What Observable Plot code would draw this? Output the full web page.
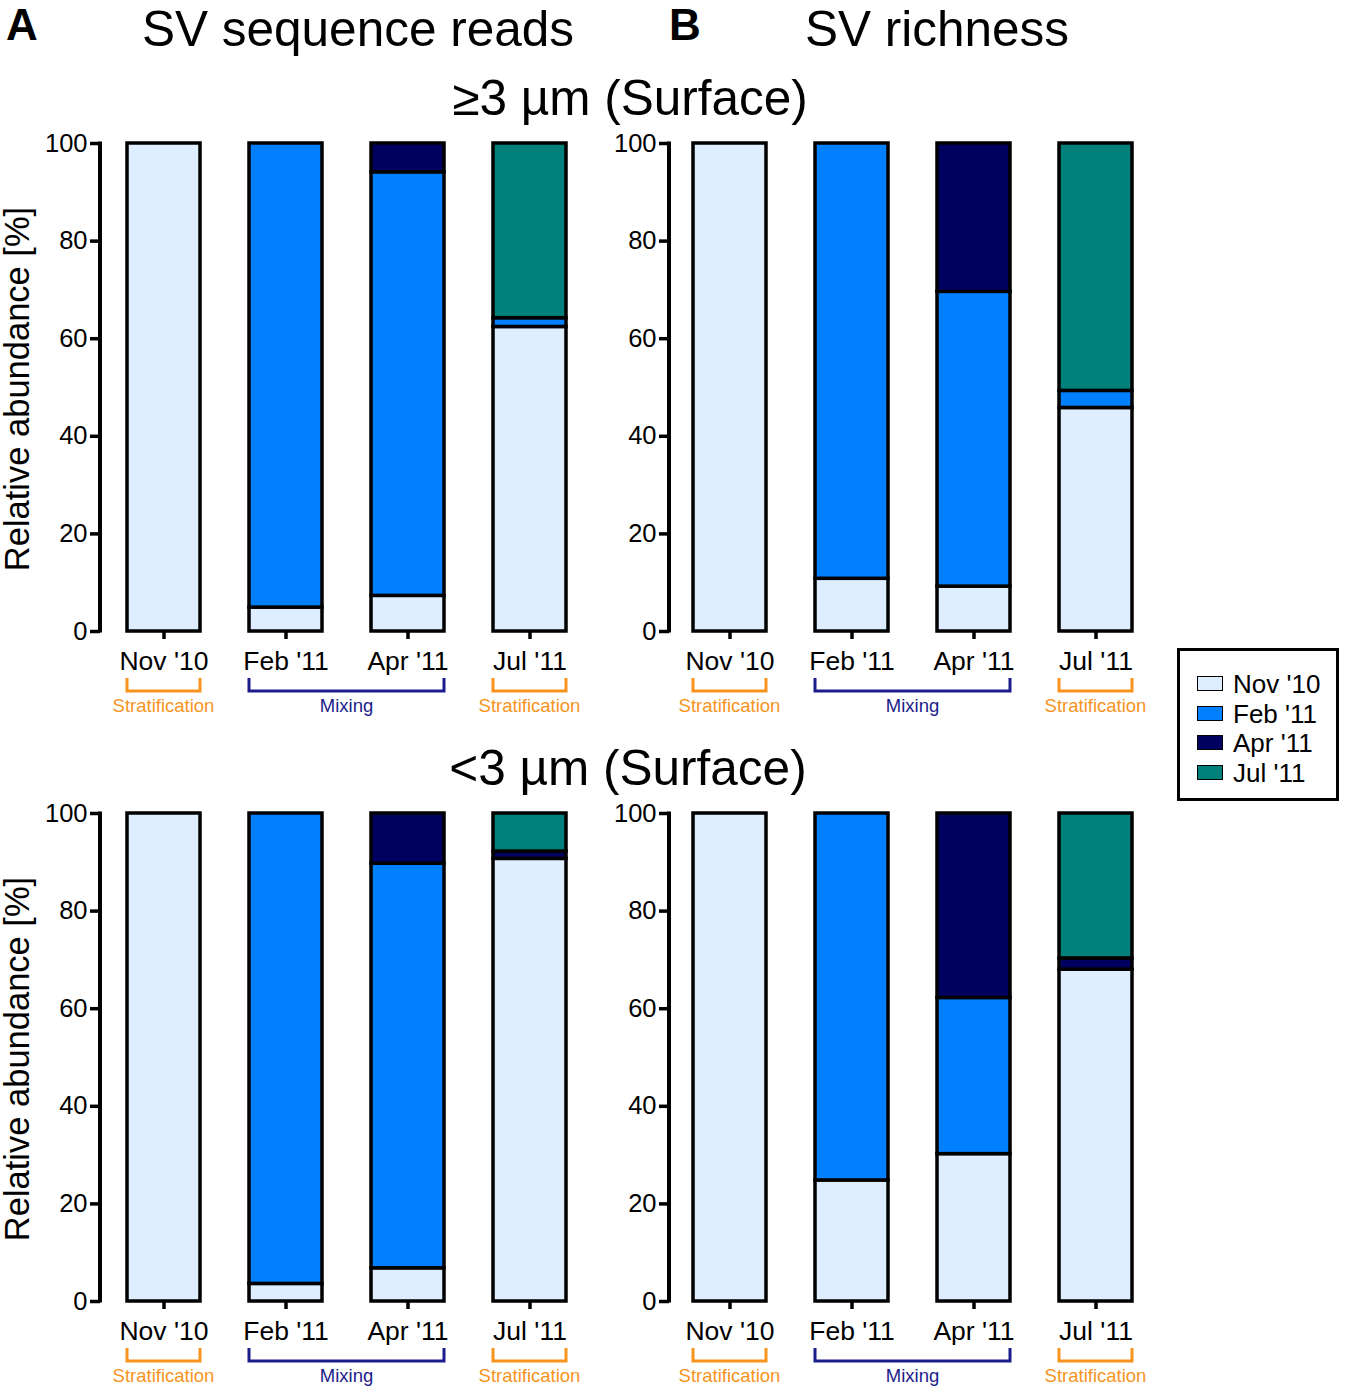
<!DOCTYPE html>
<html>
<head>
<meta charset="utf-8">
<script src="https://cdn.jsdelivr.net/npm/d3@7"></script>
<script src="https://cdn.jsdelivr.net/npm/@observablehq/plot@0.6"></script>
<style>
  html, body { margin: 0; padding: 0; background: #fff; }
  #page { position: relative; width: 1350px; height: 1395px; font-family: "Liberation Sans", Arial, sans-serif; color: #000; }
  .txt { position: absolute; line-height: 1; white-space: nowrap; }
  .panel { position: absolute; }
  #legend { position: absolute; left: 1177px; top: 648px; width: 156px; height: 147px; border: 3.5px solid #000; background: #fff; }
  .li { position: absolute; left: 17px; font-size: 26px; line-height: 1; white-space: nowrap; }
  .sw { display: inline-block; width: 24px; height: 13px; border: 1.5px solid #000; margin-right: 10px; vertical-align: 2px; }
</style>
</head>
<body>
<div id="page"></div>
<script>
// ---- data ----
const months = ["Nov '10", "Feb '11", "Apr '11", "Jul '11"];
const seriesNames = ["Nov '10", "Feb '11", "Apr '11", "Jul '11"];
const seriesColors = ["#deeeff", "#0080ff", "#000060", "#00807b"];
const yTicks = [0, 20, 40, 60, 80, 100];
const seasons = ["Stratification", "Mixing", "Stratification"];
const seasonMonths = [["Nov '10"], ["Feb '11", "Apr '11"], ["Jul '11"]];
const seasonColors = ["#f7941e", "#1c1c8c", "#f7941e"];

// SV sequence reads, >=3 um (values per series, in month order)
const readsLargeNov = [100, 4.9, 7.3, 62.4];
const readsLargeFeb = [0, 95.1, 86.8, 1.8];
const readsLargeApr = [0, 0, 5.9, 0];
const readsLargeJul = [0, 0, 0, 35.8];
// SV richness, >=3 um
const richLargeNov = [100, 10.8, 9.2, 45.8];
const richLargeFeb = [0, 89.2, 60.4, 3.5];
const richLargeApr = [0, 0, 30.4, 0];
const richLargeJul = [0, 0, 0, 50.7];
// SV sequence reads, <3 um
const readsSmallNov = [100, 3.6, 6.8, 90.7];
const readsSmallFeb = [0, 96.4, 82.9, 0];
const readsSmallApr = [0, 0, 10.3, 1.5];
const readsSmallJul = [0, 0, 0, 7.8];
// SV richness, <3 um
const richSmallNov = [100, 24.8, 30.2, 68.0];
const richSmallFeb = [0, 75.2, 32.0, 0];
const richSmallApr = [0, 0, 37.8, 2.3];
const richSmallJul = [0, 0, 0, 29.7];

function rowsOf(seriesArrays) {
  const rows = [];
  seriesArrays.forEach((arr, si) => {
    arr.forEach((v, mi) => {
      if (v > 0) rows.push({month: months[mi], series: seriesNames[si], value: v});
    });
  });
  return rows;
}

const page = document.getElementById("page");

function addText(str, left, top, size, opts = {}) {
  const d = document.createElement("div");
  d.className = "txt";
  d.textContent = str;
  d.style.fontSize = size + "px";
  d.style.top = top + "px";
  if (opts.center != null) {
    d.style.left = opts.center + "px";
    d.style.transform = "translateX(-50%)";
  } else {
    d.style.left = left + "px";
  }
  if (opts.bold) d.style.fontWeight = "bold";
  page.appendChild(d);
}

function panel(rows, left, top, ml, po, rangeW, withTitle) {
  const W = 600, H = 600;
  const plot = Plot.plot({
    width: W, height: H,
    marginLeft: ml, marginTop: 13, marginBottom: 99, marginRight: W - ml - rangeW,
    style: {background: "transparent", fontFamily: "'Liberation Sans', Arial, sans-serif", color: "#000", overflow: "visible"},
    x: {domain: months, paddingInner: 0.4, paddingOuter: po, label: null},
    y: {domain: [0, 100], label: null},
    color: {domain: seriesNames, range: seriesColors},
    marks: [
      Plot.barY(rows, {x: "month", y: "value", fill: "series", stroke: "#000", strokeWidth: 3.5}),
      Plot.axisY({ticks: yTicks, tickSize: 10, tickPadding: 3, fontSize: 25.5, strokeWidth: 3.5, label: null}),
      Plot.axisX({tickSize: 8, tickPadding: 12, fontSize: 26.5, strokeWidth: 3.5, label: null})
    ]
  });
  const xs = plot.scale("x");
  const ys = plot.scale("y");
  const svg = d3.select(plot);
  // y axis line
  svg.append("line")
    .attr("x1", ml).attr("x2", ml)
    .attr("y1", ys.apply(0) + 1.5).attr("y2", ys.apply(100) - 1.5)
    .attr("stroke", "#000").attr("stroke-width", 4);
  // season brackets
  const y0 = ys.apply(0);
  const by = y0 + 60, bt = y0 + 47;
  const bw = xs.bandwidth;
  seasonMonths.forEach((ms, i) => {
    const x1 = xs.apply(ms[0]);
    const x2 = xs.apply(ms[ms.length - 1]) + bw;
    svg.append("path")
      .attr("d", `M${x1},${bt}V${by}H${x2}V${bt}`)
      .attr("fill", "none").attr("stroke", seasonColors[i]).attr("stroke-width", 3);
    svg.append("text")
      .attr("x", (x1 + x2) / 2).attr("y", y0 + 81)
      .attr("text-anchor", "middle")
      .attr("font-size", 18.5)
      .attr("fill", seasonColors[i])
      .text(seasons[i]);
  });
  if (withTitle) {
    svg.append("text")
      .attr("transform", `translate(${29 - left},${(ys.apply(0) + ys.apply(100)) / 2 + 2}) rotate(-90)`)
      .attr("text-anchor", "middle")
      .attr("font-size", 34.5)
      .attr("fill", "#000")
      .text("Relative abundance [%]");
  }
  const wrap = document.createElement("div");
  wrap.className = "panel";
  wrap.style.left = left + "px";
  wrap.style.top = top + "px";
  wrap.appendChild(plot);
  page.appendChild(wrap);
}

panel(rowsOf([readsLargeNov, readsLargeFeb, readsLargeApr, readsLargeJul]), 0, 130, 100, 0.22, 494, true);
panel(rowsOf([richLargeNov, richLargeFeb, richLargeApr, richLargeJul]), 570, 130, 99, 0.19, 487, false);
panel(rowsOf([readsSmallNov, readsSmallFeb, readsSmallApr, readsSmallJul]), 0, 800, 100, 0.22, 494, true);
panel(rowsOf([richSmallNov, richSmallFeb, richSmallApr, richSmallJul]), 570, 800, 99, 0.19, 487, false);

// titles
addText("A", 6, 3, 44, {bold: true});
addText("SV sequence reads", 0, 4, 49.5, {center: 358});
addText("B", 669, 3, 44, {bold: true});
addText("SV richness", 0, 4, 49.5, {center: 937});
addText("\u22653 \u00b5m (Surface)", 0, 73, 49.5, {center: 630});
addText("<3 \u00b5m (Surface)", 0, 743, 49.5, {center: 628});

// legend
const lg = document.createElement("div");
lg.id = "legend";
seriesNames.forEach((s, i) => {
  const it = document.createElement("div");
  it.className = "li";
  it.style.top = (20 + i * 29.5) + "px";
  const sw = document.createElement("span");
  sw.className = "sw";
  sw.style.background = seriesColors[i];
  it.appendChild(sw);
  it.appendChild(document.createTextNode(s));
  lg.appendChild(it);
});
page.appendChild(lg);
</script>
</body>
</html>
